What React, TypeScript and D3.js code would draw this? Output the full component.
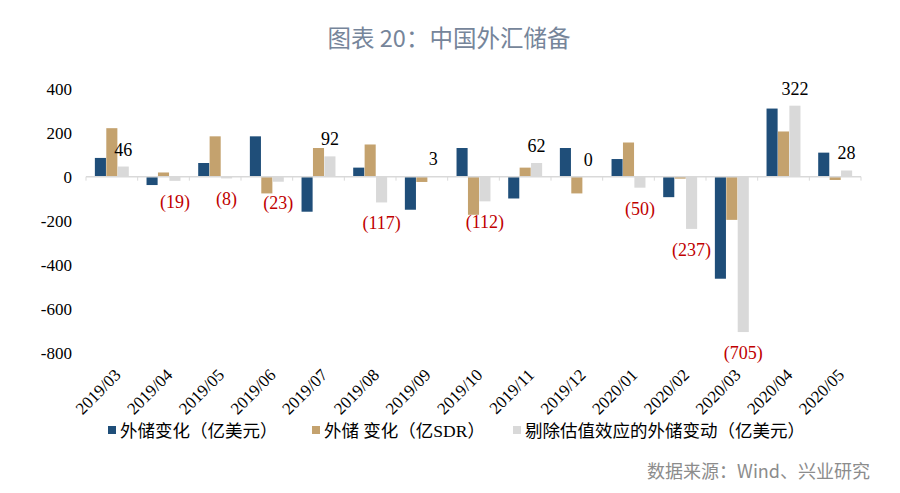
import React, { useRef, useEffect } from 'react';
import * as d3 from 'd3';

const categories = ["2019/03", "2019/04", "2019/05", "2019/06", "2019/07", "2019/08", "2019/09", "2019/10", "2019/11", "2019/12", "2020/01", "2020/02", "2020/03", "2020/04", "2020/05"];
const reserveUsd = [85, -38, 62, 183, -159, 41, -150, 130, -99, 130, 80, -93, -463, 309, 109];
const reserveSdr = [220, 19, 183, -76, 130, 146, -24, -173, 41, -76, 155, -9, -196, 205, -15];
const adjustedUsd = [46, -19, -8, -23, 92, -117, 3, -112, 62, 0, -50, -237, -705, 322, 28];
const yTicks = [400, 200, 0, -200, -400, -600, -800];

const seriesNames = ["外储变化（亿美元）", "外储 变化（亿SDR）", "剔除估值效应的外储变动（亿美元）"];
const colors = ["#1f4e79", "#c4a26e", "#d9d9d9"];

const serif = '"Liberation Serif", "Times New Roman", "Noto Sans CJK SC", serif';
const sans = '"Noto Sans CJK SC", "Noto Sans", sans-serif';

export default function App() {
    const svgRef = useRef<SVGSVGElement>(null);
    const width = 900;
    const height = 493;

    useEffect(() => {
        document.body.style.margin = "0";
        if (!svgRef.current) return;
        const svg = d3.select(svgRef.current);
        svg.selectAll("*").remove();

        const left = 86, right = 861, top = 88.5, bottom = 353;

        const x0 = d3.scaleBand().domain(categories).range([left, right]).paddingInner(0.33).paddingOuter(0.165);
        const x1 = d3.scaleBand().domain(["0", "1", "2"]).range([0, x0.bandwidth()]).padding(0.03);
        const y = d3.scaleLinear().domain([-800, 400]).range([bottom, top]);

        svg.append("rect").attr("width", width).attr("height", height).attr("fill", "#fff");

        // Title
        svg.append("text")
            .attr("x", 449).attr("y", 47)
            .attr("text-anchor", "middle")
            .style("font-family", sans).style("font-size", "23.5px")
            .style("fill", "#76859a")
            .text("图表 20：中国外汇储备");

        // Y labels
        svg.append("g").selectAll("text").data(yTicks).enter().append("text")
            .attr("x", 72).attr("y", d => y(d) + 6)
            .attr("text-anchor", "end")
            .style("font-family", serif).style("font-size", "17px").style("fill", "#000")
            .text(d => d);

        // Bars
        const series = [reserveUsd, reserveSdr, adjustedUsd];
        series.forEach((vals, s) => {
            svg.append("g").selectAll("rect").data(vals).enter().append("rect")
                .attr("x", (d, i) => x0(categories[i])! + x1(String(s))!)
                .attr("y", d => y(Math.max(0, d)))
                .attr("width", x1.bandwidth())
                .attr("height", d => Math.abs(y(d) - y(0)))
                .attr("fill", colors[s]);
        });

        // Zero axis with ticks
        const step = x0.step();
        svg.append("line")
            .attr("x1", left).attr("x2", right).attr("y1", y(0)).attr("y2", y(0))
            .attr("stroke", "#d9d9d9").attr("stroke-width", 1.5);
        svg.append("g").selectAll("line").data(d3.range(categories.length + 1)).enter().append("line")
            .attr("x1", i => left + i * step).attr("x2", i => left + i * step)
            .attr("y1", y(0)).attr("y2", y(0) + 4)
            .attr("stroke", "#d9d9d9").attr("stroke-width", 1);

        // Data labels for adjusted series
        const gx = (i: number) => x0(categories[i])! + x1("2")! + x1.bandwidth() / 2;
        svg.append("g").selectAll("text").data(adjustedUsd).enter().append("text")
            .attr("x", (d, i) => gx(i))
            .attr("y", d => d >= 0 ? y(d) - 11 : y(d) + 27)
            .attr("text-anchor", "middle")
            .style("font-family", serif).style("font-size", "18px")
            .style("fill", d => d >= 0 ? "#000" : "#c00000")
            .text(d => d >= 0 ? `${d}` : `(${-d})`);

        // X labels
        svg.append("g").selectAll("text").data(categories).enter().append("text")
            .attr("transform", d => `translate(${x0(d)! + x0.bandwidth() / 2 + 10},${bottom + 23}) rotate(-45)`)
            .attr("text-anchor", "end")
            .style("font-family", serif).style("font-size", "17px").style("fill", "#000")
            .text(d => d);

        // Legend
        const legendX = [108, 312, 513];
        const legend = svg.append("g");
        seriesNames.forEach((name, s) => {
            legend.append("rect")
                .attr("x", legendX[s]).attr("y", 426).attr("width", 8).attr("height", 8)
                .attr("fill", colors[s]);
            legend.append("text")
                .attr("x", legendX[s] + 12).attr("y", 437)
                .style("font-family", serif).style("font-size", "17.5px").style("fill", "#000")
                .text(name);
        });

        // Source
        svg.append("text")
            .attr("x", 870).attr("y", 478)
            .attr("text-anchor", "end")
            .style("font-family", sans).style("font-size", "18px").style("fill", "#8c8c8c")
            .text("数据来源：Wind、兴业研究");
    }, []);

    return (
        <div>
            <svg ref={svgRef} width={width} height={height} style={{ display: "block" }} />
        </div>
    );
}
